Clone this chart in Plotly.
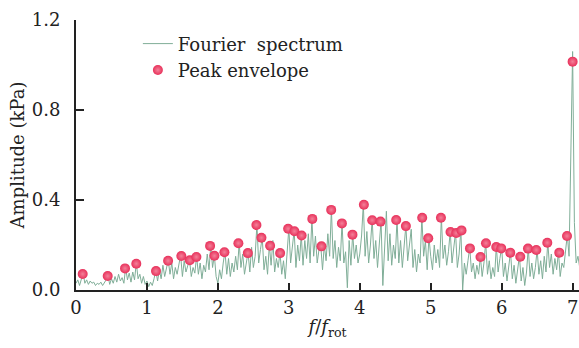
import plotly.graph_objects as go

# ---- data ----
step = 0.025
spectrum_amp = [
    # 0.000 - 0.975
    0.03, 0.045, 0.02, 0.05, 0.075, 0.03, 0.045, 0.025, 0.04, 0.03,
    0.035, 0.02, 0.03, 0.025, 0.035, 0.02, 0.03, 0.045, 0.065, 0.025,
    0.05, 0.03, 0.06, 0.035, 0.07, 0.04, 0.055, 0.03, 0.1, 0.045,
    0.075, 0.035, 0.08, 0.045, 0.12, 0.05, 0.07, 0.03, 0.06, 0.025,
    # 1.000 - 1.975
    0.04, 0.015, 0.035, 0.02, 0.05, 0.087, 0.04, 0.09, 0.05, 0.11,
    0.06, 0.1, 0.133, 0.07, 0.12, 0.05, 0.1, 0.07, 0.12, 0.155,
    0.06, 0.13, 0.08, 0.11, 0.135, 0.06, 0.1, 0.075, 0.15, 0.07,
    0.12, 0.05, 0.11, 0.08, 0.16, 0.09, 0.2, 0.1, 0.155, 0.06,
    # 2.000 - 2.975
    0.03, 0.09, 0.05, 0.12, 0.172, 0.07, 0.14, 0.06, 0.12, 0.08,
    0.15, 0.09, 0.21, 0.1, 0.16, 0.07, 0.13, 0.168, 0.08, 0.19,
    0.1, 0.15, 0.292, 0.12, 0.18, 0.235, 0.09, 0.15, 0.07, 0.2,
    0.11, 0.22, 0.08, 0.14, 0.1, 0.167, 0.07, 0.13, 0.05, 0.18,
    # 3.000 - 3.975
    0.275, 0.12, 0.19, 0.265, 0.1, 0.2, 0.13, 0.245, 0.11, 0.22,
    0.14, 0.25, 0.12, 0.32, 0.15, 0.24, 0.12, 0.18, 0.198, 0.09,
    0.2, 0.13, 0.25, 0.15, 0.36, 0.14, 0.22, 0.1, 0.19, 0.13,
    0.3, 0.12, 0.17, 0.01, 0.22, 0.11, 0.25, 0.14, 0.2, 0.12,
    # 4.000 - 4.975
    0.16, 0.24, 0.383, 0.15, 0.26, 0.12, 0.2, 0.315, 0.14, 0.22,
    0.1, 0.19, 0.308, 0.02, 0.16, 0.35, 0.13, 0.25, 0.11, 0.2,
    0.14, 0.315, 0.12, 0.22, 0.1, 0.18, 0.288, 0.13, 0.2, 0.27,
    0.1, 0.18, 0.08, 0.16, 0.12, 0.325, 0.15, 0.22, 0.09, 0.235,
    # 5.000 - 5.975
    0.15, 0.09, 0.2, 0.12, 0.18, 0.1, 0.325, 0.14, 0.2, 0.11,
    0.17, 0.262, 0.12, 0.19, 0.257, 0.1, 0.16, 0.27, 0.0, 0.12,
    0.07, 0.13, 0.19, 0.08, 0.12, 0.05, 0.11, 0.07, 0.15, 0.06,
    0.12, 0.212, 0.07, 0.13, 0.05, 0.1, 0.06, 0.195, 0.08, 0.14,
    # 6.000 - 6.975
    0.19, 0.06, 0.12, 0.04, 0.1, 0.17, 0.05, 0.11, 0.03, 0.09,
    0.152, 0.04, 0.1, 0.02, 0.08, 0.188, 0.06, 0.12, 0.05, 0.1,
    0.18, 0.07, 0.13, 0.05, 0.15, 0.08, 0.215, 0.1, 0.16, 0.07,
    0.14, 0.09, 0.17, 0.06, 0.12, 0.1, 0.18, 0.245, 0.15, 0.7,
    # 7.000 - 7.100
    1.06, 0.3, 0.12, 0.15, 0.1,
]
spectrum_f = [round(i * step, 3) for i in range(len(spectrum_amp))]

peak_f = [
    0.094, 0.447, 0.691, 0.850, 1.128, 1.298, 1.485, 1.604, 1.697, 1.890,
    1.951, 2.092, 2.289, 2.422, 2.543, 2.614, 2.736, 2.877, 2.990, 3.079,
    3.180, 3.331, 3.460, 3.597, 3.748, 3.897, 4.058, 4.175, 4.292, 4.513,
    4.650, 4.880, 4.965, 5.144, 5.279, 5.360, 5.434, 5.553, 5.702, 5.779,
    5.924, 5.994, 6.121, 6.262, 6.371, 6.488, 6.643, 6.812, 6.921, 7.000,
]
peak_amp = [
    0.071, 0.062, 0.096, 0.117, 0.084, 0.130, 0.151, 0.132, 0.147, 0.196,
    0.152, 0.168, 0.208, 0.164, 0.289, 0.232, 0.197, 0.164, 0.272, 0.261,
    0.242, 0.316, 0.194, 0.356, 0.296, 0.246, 0.379, 0.310, 0.304, 0.311,
    0.284, 0.321, 0.230, 0.321, 0.258, 0.253, 0.265, 0.185, 0.147, 0.208,
    0.191, 0.185, 0.166, 0.148, 0.184, 0.178, 0.210, 0.166, 0.240, 1.015,
]

x_ticks = [0, 1, 2, 3, 4, 5, 6, 7]
y_ticks = [0.0, 0.4, 0.8, 1.2]

FONT = "DejaVu Serif"
FS = 18

fig = go.Figure()
fig.add_trace(go.Scatter(
    x=spectrum_f, y=spectrum_amp, mode="lines",
    name="Fourier\u00a0 spectrum",
    line=dict(color="#80ae98", width=1),
))
fig.add_trace(go.Scatter(
    x=peak_f, y=peak_amp, mode="markers",
    name="Peak envelope",
    marker=dict(size=10, color="#e8305a",
                gradient=dict(type="radial", color="#f38199"),
                line=dict(width=0)),
))

fig.update_layout(
    width=579, height=348,
    margin=dict(l=76, r=0, t=20, b=58),
    paper_bgcolor="white", plot_bgcolor="white",
    font=dict(family=FONT, size=FS, color="#222222"),
    showlegend=True,
    legend=dict(x=0.123, y=0.98, xanchor="left", yanchor="top",
                bgcolor="rgba(0,0,0,0)", font=dict(size=FS, family=FONT),
                tracegroupgap=0, itemwidth=30),
    xaxis=dict(range=[0, 7.09], tickvals=x_ticks, ticks="inside", ticklen=7,
               tickwidth=2, tickcolor="#222222", showline=True, linewidth=2,
               linecolor="#222222", showgrid=False, zeroline=False,
               tickfont=dict(family=FONT, size=FS),
               title=dict(text="<i>f</i>/<i>f</i><sub>rot</sub>", standoff=4,
                          font=dict(size=FS, family=FONT))),
    yaxis=dict(range=[0, 1.2], tickvals=y_ticks, tickformat=".1f",
               ticks="inside", ticklen=8, tickwidth=2, tickcolor="#222222",
               showline=True, linewidth=2, linecolor="#222222",
               showgrid=False, zeroline=False, ticklabelstandoff=10,
               tickfont=dict(family=FONT, size=FS),
               title=dict(text="Amplitude (kPa)", standoff=2,
                          font=dict(size=FS, family=FONT))),
)

fig.write_html("out.html")
